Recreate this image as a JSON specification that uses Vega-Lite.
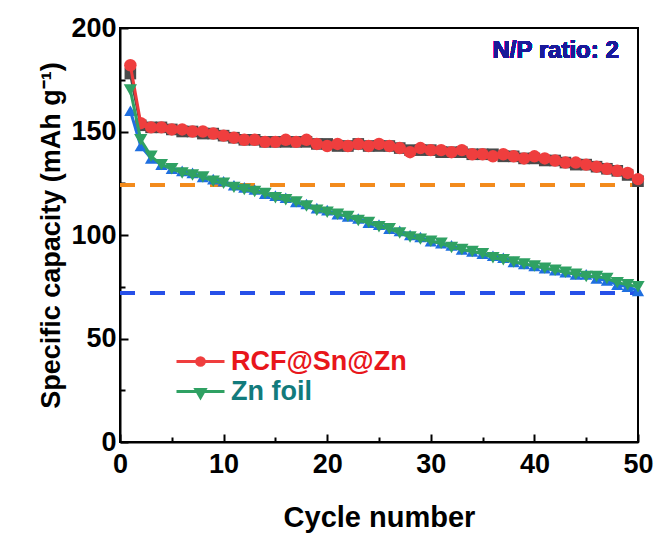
{
  "$schema": "https://vega.github.io/schema/vega-lite/v6.json",
  "width": 518,
  "height": 414,
  "autosize": {"type": "none"},
  "padding": {"left": 120, "top": 28, "right": 21, "bottom": 91},
  "background": "white",
  "config": {
    "view": {"stroke": "black", "strokeWidth": 2},
    "font": "Liberation Sans",
    "axis": {
      "grid": false,
      "domainColor": "black",
      "domainWidth": 2,
      "tickColor": "black",
      "tickWidth": 2,
      "labelFont": "Liberation Sans",
      "labelFontSize": 27,
      "labelFontWeight": "bold",
      "labelColor": "black",
      "titleFont": "Liberation Sans",
      "titleFontWeight": "bold",
      "titleColor": "black"
    },
    "legend": {
      "title": null,
      "orient": "none",
      "padding": 0,
      "symbolSize": 2304,
      "symbolStrokeWidth": 3,
      "symbolOpacity": 1,
      "labelFont": "Liberation Sans",
      "labelFontSize": 27,
      "labelFontWeight": "bold",
      "labelOffset": 5,
      "labelLimit": 400
    }
  },
  "data": {
    "values": [
      {"cycle": 1, "red": 182, "gray": 178, "green": 170, "blue": 160},
      {"cycle": 2, "red": 154, "gray": 153, "green": 146, "blue": 143},
      {"cycle": 3, "red": 152, "gray": 152, "green": 138, "blue": 137},
      {"cycle": 4, "red": 152, "gray": 152, "green": 134, "blue": 134},
      {"cycle": 5, "red": 151, "gray": 151, "green": 132, "blue": 132},
      {"cycle": 6, "red": 151, "gray": 150, "green": 130, "blue": 131},
      {"cycle": 7, "red": 150, "gray": 150, "green": 129, "blue": 130},
      {"cycle": 8, "red": 150, "gray": 149, "green": 128, "blue": 128},
      {"cycle": 9, "red": 149, "gray": 149, "green": 126, "blue": 127},
      {"cycle": 10, "red": 148, "gray": 148, "green": 125, "blue": 126},
      {"cycle": 11, "red": 147, "gray": 147, "green": 123, "blue": 124},
      {"cycle": 12, "red": 146, "gray": 146, "green": 122, "blue": 123},
      {"cycle": 13, "red": 146, "gray": 146, "green": 121, "blue": 122},
      {"cycle": 14, "red": 145, "gray": 145, "green": 120, "blue": 120},
      {"cycle": 15, "red": 145, "gray": 145, "green": 118, "blue": 119},
      {"cycle": 16, "red": 146, "gray": 145, "green": 117, "blue": 118},
      {"cycle": 17, "red": 145, "gray": 145, "green": 116, "blue": 116},
      {"cycle": 18, "red": 146, "gray": 145, "green": 114, "blue": 115},
      {"cycle": 19, "red": 144, "gray": 144, "green": 112, "blue": 113},
      {"cycle": 20, "red": 143, "gray": 144, "green": 111, "blue": 112},
      {"cycle": 21, "red": 144, "gray": 143, "green": 110, "blue": 110},
      {"cycle": 22, "red": 143, "gray": 143, "green": 109, "blue": 109},
      {"cycle": 23, "red": 144, "gray": 144, "green": 107, "blue": 108},
      {"cycle": 24, "red": 143, "gray": 143, "green": 106, "blue": 106},
      {"cycle": 25, "red": 144, "gray": 143, "green": 104, "blue": 105},
      {"cycle": 26, "red": 143, "gray": 143, "green": 103, "blue": 103},
      {"cycle": 27, "red": 142, "gray": 142, "green": 101, "blue": 102},
      {"cycle": 28, "red": 140, "gray": 141, "green": 99, "blue": 100},
      {"cycle": 29, "red": 142, "gray": 141, "green": 98, "blue": 99},
      {"cycle": 30, "red": 141, "gray": 141, "green": 97, "blue": 97},
      {"cycle": 31, "red": 141, "gray": 140, "green": 96, "blue": 96},
      {"cycle": 32, "red": 140, "gray": 140, "green": 94, "blue": 95},
      {"cycle": 33, "red": 141, "gray": 140, "green": 93, "blue": 93},
      {"cycle": 34, "red": 139, "gray": 139, "green": 92, "blue": 92},
      {"cycle": 35, "red": 139, "gray": 139, "green": 91, "blue": 91},
      {"cycle": 36, "red": 138, "gray": 139, "green": 89, "blue": 90},
      {"cycle": 37, "red": 139, "gray": 138, "green": 88, "blue": 89},
      {"cycle": 38, "red": 138, "gray": 138, "green": 87, "blue": 87},
      {"cycle": 39, "red": 137, "gray": 137, "green": 86, "blue": 86},
      {"cycle": 40, "red": 138, "gray": 137, "green": 85, "blue": 85},
      {"cycle": 41, "red": 137, "gray": 136, "green": 84, "blue": 84},
      {"cycle": 42, "red": 136, "gray": 136, "green": 83, "blue": 83},
      {"cycle": 43, "red": 135, "gray": 135, "green": 82, "blue": 82},
      {"cycle": 44, "red": 135, "gray": 134, "green": 81, "blue": 81},
      {"cycle": 45, "red": 134, "gray": 134, "green": 80, "blue": 81},
      {"cycle": 46, "red": 133, "gray": 133, "green": 80, "blue": 79},
      {"cycle": 47, "red": 132, "gray": 132, "green": 79, "blue": 78},
      {"cycle": 48, "red": 131, "gray": 131, "green": 77, "blue": 76},
      {"cycle": 49, "red": 130, "gray": 129, "green": 76, "blue": 75},
      {"cycle": 50, "red": 127, "gray": 126, "green": 75, "blue": 73}
    ]
  },
  "encoding": {
    "x": {
      "field": "cycle",
      "type": "quantitative",
      "scale": {"domain": [0, 50], "nice": false},
      "axis": {
        "title": "Cycle number",
        "titleFontSize": 29,
        "values": [0, 5, 10, 15, 20, 25, 30, 35, 40, 45, 50],
        "labelExpr": "datum.value % 10 === 0 ? datum.label : ''",
        "tickSize": {"condition": {"test": "datum.value % 10 === 0", "value": -8}, "value": -5},
        "labelPadding": 17,
        "titlePadding": 26,
        "labelFlush": false
      }
    }
  },
  "layer": [
    {
      "mark": {"type": "rule", "color": "#f28a1c", "strokeWidth": 3, "strokeDash": [15, 15]},
      "encoding": {"y": {"datum": 124}, "x": {"datum": 0}, "x2": {"datum": 50}}
    },
    {
      "mark": {"type": "rule", "color": "#2750e8", "strokeWidth": 3, "strokeDash": [15, 15]},
      "encoding": {"y": {"datum": 72}, "x": {"datum": 0}, "x2": {"datum": 50}}
    },
    {
      "mark": {"type": "line", "color": "#4a4a4a", "strokeWidth": 3},
      "encoding": {
        "y": {
          "field": "gray",
          "type": "quantitative",
          "scale": {"domain": [0, 200], "nice": false},
          "axis": {
            "title": "Specific capacity (mAh g\u207b\u00b9)",
            "titleFontSize": 27,
            "values": [0, 25, 50, 75, 100, 125, 150, 175, 200],
            "labelExpr": "datum.value % 50 === 0 ? datum.label : ''",
            "tickSize": {"condition": {"test": "datum.value % 50 === 0", "value": -8}, "value": -5},
            "labelPadding": 12,
            "titlePadding": 5
          }
        }
      }
    },
    {
      "mark": {"type": "point", "shape": "square", "filled": true, "opacity": 1, "size": 135, "color": "#4a4a4a"},
      "encoding": {"y": {"field": "gray", "type": "quantitative"}}
    },
    {
      "mark": {"type": "line", "color": "#ee3b3b", "strokeWidth": 3},
      "encoding": {"y": {"field": "red", "type": "quantitative"}}
    },
    {
      "mark": {"type": "point", "shape": "circle", "filled": true, "opacity": 1, "size": 155},
      "encoding": {
        "y": {"field": "red", "type": "quantitative"},
        "color": {
          "datum": "RCF@Sn@Zn",
          "scale": {"domain": ["RCF@Sn@Zn"], "range": ["#ef3e3e"]},
          "legend": {
            "legendX": 55,
            "legendY": 308,
            "symbolType": "M-1,0H1M0.16,0A0.16,0.16,0,1,1,-0.16,0A0.16,0.16,0,1,1,0.16,0",
            "symbolStrokeColor": "#ef3e3e",
            "symbolFillColor": "#ef3e3e",
            "labelColor": "#e8161b"
          }
        }
      }
    },
    {
      "mark": {"type": "line", "color": "#1f6fe0", "strokeWidth": 3},
      "encoding": {"y": {"field": "blue", "type": "quantitative"}}
    },
    {
      "mark": {"type": "point", "shape": "triangle-up", "filled": true, "opacity": 1, "size": 150, "color": "#1f6fe0"},
      "encoding": {"y": {"field": "blue", "type": "quantitative"}}
    },
    {
      "mark": {"type": "line", "color": "#2fa163", "strokeWidth": 3},
      "encoding": {"y": {"field": "green", "type": "quantitative"}}
    },
    {
      "mark": {"type": "point", "shape": "triangle-down", "filled": true, "opacity": 1, "size": 175},
      "encoding": {
        "y": {"field": "green", "type": "quantitative"},
        "fill": {
          "datum": "Zn foil",
          "scale": {"domain": ["Zn foil"], "range": ["#2fa163"]},
          "legend": {
            "legendX": 55,
            "legendY": 338,
            "symbolType": "M-1,0H1M-0.19,-0.08L0.19,-0.08L0,0.25Z",
            "symbolStrokeColor": "#2fa163",
            "symbolFillColor": "#2fa163",
            "labelColor": "#127b7c"
          }
        }
      }
    },
    {
      "mark": {"type": "text", "text": "N/P ratio: 2", "font": "Liberation Sans", "fontSize": 24, "fontWeight": "bold", "color": "#1a1a99"},
      "encoding": {"x": {"datum": 42.05}, "y": {"datum": 189}}
    }
  ]
}
